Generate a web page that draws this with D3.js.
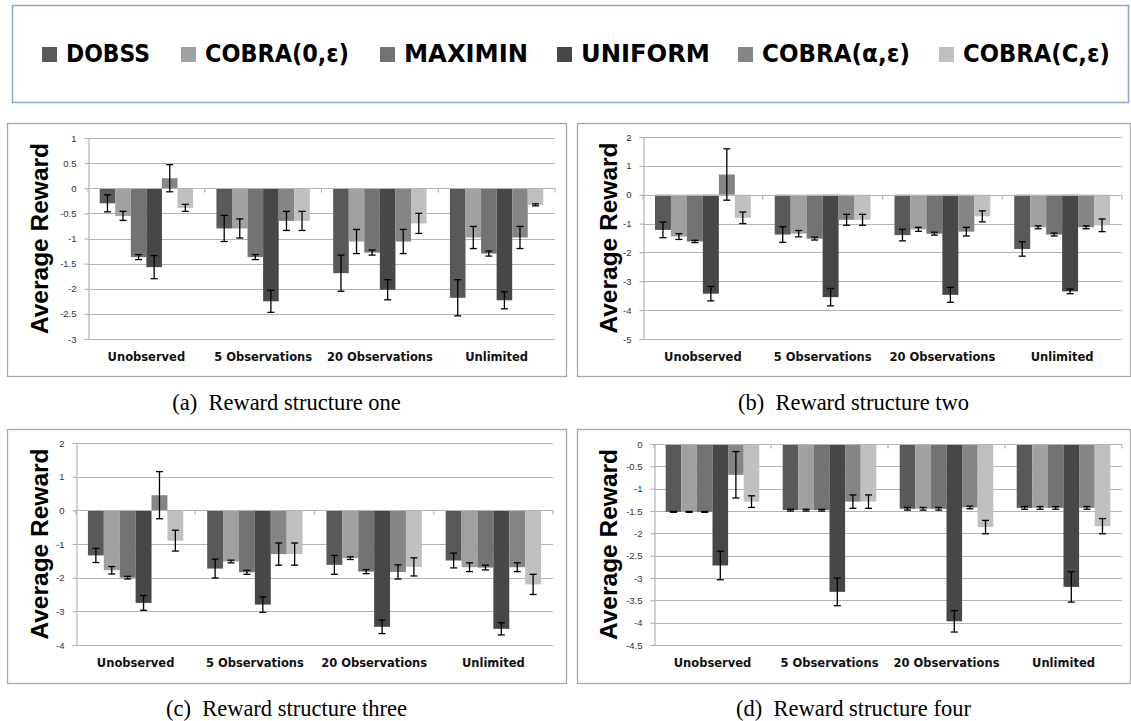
<!DOCTYPE html>
<html><head><meta charset="utf-8">
<script src="https://cdn.jsdelivr.net/npm/d3@7"></script>
<style>html,body{margin:0;padding:0;background:#fff;}svg{display:block;}</style>
</head><body>
<svg id="chart" width="1131" height="721"></svg>
<script>
const categories = ["Unobserved", "5 Observations", "20 Observations", "Unlimited"];
const seriesNames = ["DOBSS", "COBRA(0,\u03b5)", "MAXIMIN", "UNIFORM", "COBRA(\u03b1,\u03b5)", "COBRA(C,\u03b5)"];

// values[category][series], err = half-height of error bar
const valuesA = [
  [-0.30, -0.55, -1.37, -1.57, 0.20, -0.39],
  [-0.80, -0.80, -1.37, -2.25, -0.65, -0.65],
  [-1.69, -1.06, -1.28, -2.02, -1.06, -0.70],
  [-2.18, -0.98, -1.30, -2.23, -0.98, -0.33]];
const errA = [
  [0.17, 0.09, 0.05, 0.23, 0.27, 0.07],
  [0.26, 0.19, 0.05, 0.22, 0.19, 0.19],
  [0.36, 0.24, 0.05, 0.20, 0.24, 0.20],
  [0.36, 0.22, 0.05, 0.17, 0.22, 0.02]];
const valuesB = [
  [-1.22, -1.45, -1.62, -3.43, 0.70, -0.80],
  [-1.38, -1.35, -1.52, -3.55, -0.87, -0.87],
  [-1.40, -1.20, -1.35, -3.47, -1.28, -0.75],
  [-1.88, -1.13, -1.38, -3.35, -1.13, -1.06]];
const errB = [
  [0.27, 0.10, 0.04, 0.25, 0.89, 0.20],
  [0.27, 0.11, 0.05, 0.30, 0.19, 0.19],
  [0.20, 0.07, 0.05, 0.26, 0.15, 0.19],
  [0.25, 0.05, 0.05, 0.08, 0.05, 0.22]];
const valuesC = [
  [-1.34, -1.78, -2.00, -2.75, 0.45, -0.90],
  [-1.73, -1.52, -1.84, -2.80, -1.30, -1.30],
  [-1.62, -1.42, -1.82, -3.46, -1.83, -1.68],
  [-1.49, -1.69, -1.70, -3.52, -1.69, -2.20]];
const errC = [
  [0.21, 0.11, 0.04, 0.22, 0.70, 0.31],
  [0.28, 0.04, 0.06, 0.23, 0.33, 0.33],
  [0.28, 0.04, 0.06, 0.20, 0.21, 0.27],
  [0.22, 0.13, 0.07, 0.18, 0.13, 0.30]];
const valuesD = [
  [-1.52, -1.52, -1.52, -2.72, -0.69, -1.29],
  [-1.48, -1.48, -1.48, -3.31, -1.29, -1.29],
  [-1.45, -1.45, -1.45, -3.97, -1.42, -1.86],
  [-1.43, -1.43, -1.43, -3.20, -1.43, -1.84]];
const errD = [
  [0.01, 0.01, 0.01, 0.32, 0.52, 0.13],
  [0.02, 0.02, 0.02, 0.31, 0.15, 0.15],
  [0.03, 0.03, 0.03, 0.24, 0.03, 0.15],
  [0.03, 0.03, 0.03, 0.34, 0.03, 0.17]];

const ticksA = [1, 0.5, 0, -0.5, -1, -1.5, -2, -2.5, -3];
const ticksB = [2, 1, 0, -1, -2, -3, -4, -5];
const ticksC = [2, 1, 0, -1, -2, -3, -4];
const ticksD = [0, -0.5, -1, -1.5, -2, -2.5, -3, -3.5, -4, -4.5];

const captions = ["(a)\u2002Reward structure one", "(b)\u2002Reward structure two",
                  "(c)\u2002Reward structure three", "(d)\u2002Reward structure four"];
const yTitle = "Average Reward";

// styling
const colors = ["#595959", "#a0a0a0", "#737373", "#474747", "#858585", "#c0c0c0"];
const gridColor = "#b4b4b4";
const frameColor = "#a8a8a8";

const svg = d3.select("#chart");

// ---------- Legend ----------
svg.append("rect").attr("x", 12.5).attr("y", 5.5).attr("width", 1116).attr("height", 97)
  .attr("fill", "#fff").attr("stroke", "#8aa6d2").attr("stroke-width", 1.5);
const legendLayout = [
  {sx: 42, tx: 66, tw: 84},
  {sx: 181, tx: 205, tw: 144},
  {sx: 380, tx: 404, tw: 124},
  {sx: 557, tx: 581, tw: 129},
  {sx: 738, tx: 762, tw: 148},
  {sx: 939, tx: 963, tw: 147}];
seriesNames.forEach((name, i) => {
  const L = legendLayout[i];
  svg.append("rect").attr("x", L.sx).attr("y", 47).attr("width", 15).attr("height", 15)
    .attr("fill", colors[i]);
  svg.append("text").attr("x", L.tx).attr("y", 62)
    .attr("font-family", "'Liberation Sans Narrow','DejaVu Sans Condensed','Liberation Sans',sans-serif")
    .attr("font-weight", "bold").attr("font-size", 24)
    .attr("textLength", L.tw).attr("lengthAdjust", "spacingAndGlyphs")
    .attr("fill", "#000").text(name);
});

// ---------- Panels ----------
const panels = [
  {values: valuesA, err: errA, ticks: ticksA, frame: [7, 123, 566, 376], x0: 88, x1: 555, yTop: 138, yBot: 339, caption: captions[0], capY: 410, titleX: 39},
  {values: valuesB, err: errB, ticks: ticksB, frame: [577, 123, 1130, 376], x0: 643, x1: 1122, yTop: 137, yBot: 339, caption: captions[1], capY: 410, titleX: 608},
  {values: valuesC, err: errC, ticks: ticksC, frame: [7, 429, 566, 683], x0: 76, x1: 553, yTop: 443, yBot: 645, caption: captions[2], capY: 716, titleX: 39},
  {values: valuesD, err: errD, ticks: ticksD, frame: [577, 429, 1130, 683], x0: 654, x1: 1122, yTop: 444, yBot: 645, caption: captions[3], capY: 716, titleX: 608}
];

panels.forEach(p => {
  const g = svg.append("g");
  const [fx0, fy0, fx1, fy1] = p.frame;
  g.append("rect").attr("x", fx0 + 0.5).attr("y", fy0 + 0.5).attr("width", fx1 - fx0).attr("height", fy1 - fy0)
    .attr("fill", "#fff").attr("stroke", frameColor).attr("stroke-width", 1.3);

  const y = d3.scaleLinear().domain([d3.min(p.ticks), d3.max(p.ticks)]).range([p.yBot, p.yTop]);
  const x = d3.scaleBand().domain(categories).range([p.x0, p.x1]).paddingInner(0.2).paddingOuter(0.1);
  const xs = d3.scaleBand().domain(d3.range(seriesNames.length)).range([0, x.bandwidth()]).padding(0);
  const step = x.step();

  // gridlines
  g.append("g").selectAll("line").data(p.ticks).join("line")
    .attr("x1", p.x0).attr("x2", p.x1)
    .attr("y1", d => Math.round(y(d)) + 0.5).attr("y2", d => Math.round(y(d)) + 0.5)
    .attr("stroke", gridColor).attr("stroke-width", 1.2);

  // y axis
  const yAxis = d3.axisLeft(y).tickValues(p.ticks).tickSize(4).tickPadding(8).tickFormat(d => String(d));
  const ya = g.append("g").attr("transform", `translate(${p.x0 + 0.5},0)`).call(yAxis);
  ya.select(".domain").attr("stroke", gridColor).attr("stroke-width", 1.2);
  ya.selectAll(".tick line").attr("stroke", gridColor).attr("stroke-width", 1.2);
  ya.selectAll(".tick text").attr("font-family", "'Liberation Sans',Arial,sans-serif")
    .attr("font-size", 9.5).attr("fill", "#333");

  // y title
  g.append("text").attr("transform", `translate(${p.titleX},${(p.yTop + p.yBot) / 2}) rotate(-90)`)
    .attr("text-anchor", "middle").attr("dominant-baseline", "central")
    .attr("font-family", "'Liberation Sans',Arial,sans-serif").attr("font-weight", "bold")
    .attr("font-size", 24.5).attr("fill", "#000").text(yTitle);

  // bars
  const rows = [];
  p.values.forEach((row, ci) => row.forEach((v, si) => rows.push({c: categories[ci], s: si, v, e: p.err[ci][si]})));
  g.append("g").selectAll("rect").data(rows).join("rect")
    .attr("x", d => x(d.c) + xs(d.s))
    .attr("width", xs.bandwidth())
    .attr("y", d => Math.min(y(0), y(d.v)))
    .attr("height", d => Math.abs(y(d.v) - y(0)))
    .attr("fill", d => colors[d.s]);

  // x axis line at zero with boundary ticks
  const y0 = Math.round(y(0)) + 0.5;
  g.append("line").attr("x1", p.x0).attr("x2", p.x1).attr("y1", y0).attr("y2", y0)
    .attr("stroke", gridColor).attr("stroke-width", 1.2);
  const bounds = categories.map(c => x(c) - step * 0.1).concat([p.x1]);
  g.append("g").selectAll("line").data(bounds).join("line")
    .attr("x1", d => d).attr("x2", d => d).attr("y1", y0).attr("y2", y0 + 4)
    .attr("stroke", gridColor).attr("stroke-width", 1.2);

  // error bars
  const eg = g.append("g").attr("stroke", "#000").attr("stroke-width", 1.3);
  rows.forEach(d => {
    const cx = x(d.c) + xs(d.s) + xs.bandwidth() / 2;
    const yt = y(d.v + d.e), yb = y(d.v - d.e);
    eg.append("line").attr("x1", cx).attr("x2", cx).attr("y1", yt).attr("y2", yb);
    eg.append("line").attr("x1", cx - 3.5).attr("x2", cx + 3.5).attr("y1", yt).attr("y2", yt);
    eg.append("line").attr("x1", cx - 3.5).attr("x2", cx + 3.5).attr("y1", yb).attr("y2", yb);
  });

  // category labels
  g.append("g").selectAll("text").data(categories).join("text")
    .attr("x", d => x(d) + x.bandwidth() / 2).attr("y", p.yBot + 21.5)
    .attr("text-anchor", "middle")
    .attr("font-family", "'DejaVu Sans',Verdana,sans-serif").attr("font-weight", "bold")
    .attr("font-size", 11.5).attr("fill", "#111").text(d => d);

  // caption
  svg.append("text").attr("x", (fx0 + fx1) / 2).attr("y", p.capY)
    .attr("text-anchor", "middle").attr("font-family", "'Liberation Serif','Times New Roman',serif")
    .attr("font-size", 22.5).attr("fill", "#000").text(p.caption);
});
</script>
</body></html>
